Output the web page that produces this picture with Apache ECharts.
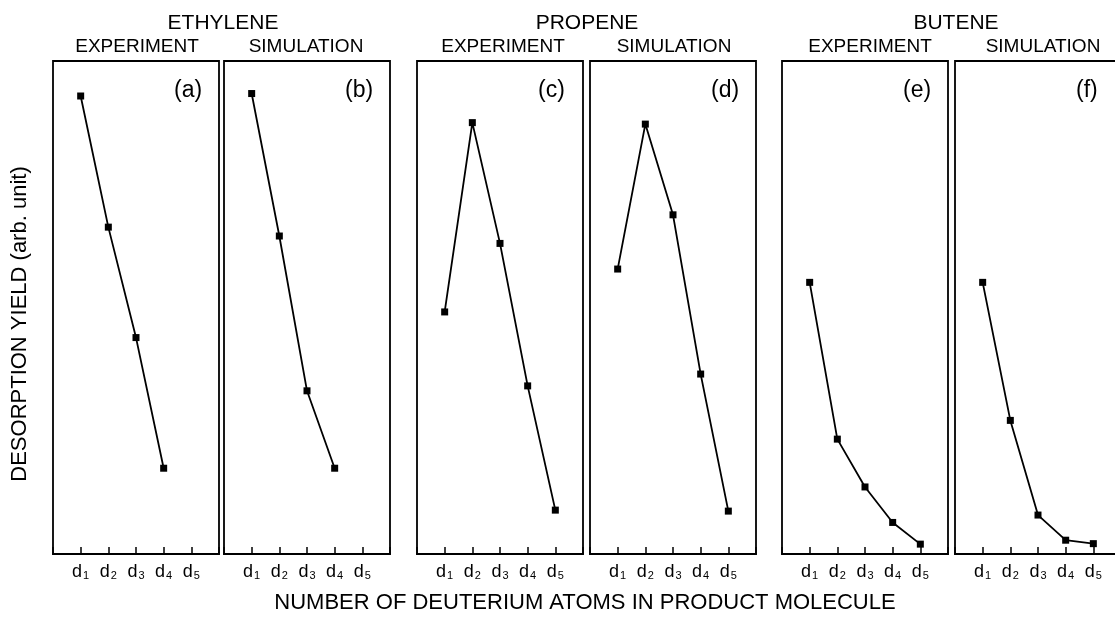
<!DOCTYPE html>
<html>
<head>
<meta charset="utf-8">
<script src="https://cdn.jsdelivr.net/npm/echarts@6/dist/echarts.min.js"></script>
<style>
html,body{margin:0;padding:0;background:#fff;}
#c{width:1115px;height:617px;}
</style>
</head>
<body>
<div id="c"></div>
<script>
// ---- data (arbitrary units, 0..100 = panel bottom..top) ----
const xValues = [1, 2, 3, 4, 5];
const tickLabels = ['1', '2', '3', '4', '5']; // d subscripts
const ethyleneExp = [92.9, 66.3, 43.9, 17.4];
const ethyleneSim = [93.4, 64.5, 33.1, 17.4];
const propeneExp = [49.1, 87.5, 63.0, 34.1, 8.9];
const propeneSim = [57.8, 87.2, 68.8, 36.5, 8.7];
const buteneExp = [55.1, 23.3, 13.6, 6.4, 2.0];
const buteneSim = [55.1, 27.1, 7.9, 2.8, 2.1];
const panelLetters = ['(a)', '(b)', '(c)', '(d)', '(e)', '(f)'];
const molecules = ['ETHYLENE', 'PROPENE', 'BUTENE'];
const subTitles = ['EXPERIMENT', 'SIMULATION'];

const panelSeries = [ethyleneExp, ethyleneSim, propeneExp, propeneSim, buteneExp, buteneSim];

// ---- layout ----
const FONT = '"Liberation Sans", Arial, Helvetica, sans-serif';
const gridLefts = [53, 224, 417, 590, 782, 955];
const gridW = 166;
const gridTop = 61, gridH = 493;

const grids = [], xAxes = [], yAxes = [], series = [], graphics = [];
panelSeries.forEach((vals, i) => {
  grids.push({
    left: gridLefts[i], top: gridTop, width: gridW, height: gridH,
    outerBoundsMode: 'none', containLabel: false,
    show: true, borderColor: '#000', borderWidth: 1.8, backgroundColor: 'transparent'
  });
  xAxes.push({
    type: 'value', gridIndex: i, min: 0, max: 6, interval: 1,
    axisLine: { show: true, onZero: false, lineStyle: { color: '#000', width: 1.8 } },
    axisTick: { show: true, inside: true, length: 7, lineStyle: { color: '#000', width: 1.5 } },
    splitLine: { show: false },
    axisLabel: {
      margin: 9,
      color: '#000',
      formatter: v => (v >= 1 && v <= 5) ? '{d|d}{s|' + tickLabels[v - 1] + '}' : '',
      rich: {
        d: { fontFamily: FONT, fontSize: 18, color: '#000', verticalAlign: 'bottom' },
        s: { fontFamily: FONT, fontSize: 11, color: '#000', verticalAlign: 'bottom', padding: [0, 0, 0, 1] }
      }
    }
  });
  yAxes.push({
    type: 'value', gridIndex: i, min: 0, max: 100, show: false
  });
  series.push({
    type: 'line', xAxisIndex: i, yAxisIndex: i,
    data: vals.map((v, k) => [xValues[k], v]),
    symbol: 'rect', symbolSize: 7,
    itemStyle: { color: '#000' },
    lineStyle: { color: '#000', width: 1.8 },
    animation: false
  });
  graphics.push({
    type: 'text', left: gridLefts[i] + gridW - 45, top: 79,
    style: { text: panelLetters[i], font: '23px ' + FONT, fill: '#000' }
  });
});

// headings
const moleculeX = [223, 587, 956];
const subX = [137, 306, 503, 674, 870, 1043];
molecules.forEach((m, j) => {
  graphics.push({
    type: 'text', x: moleculeX[j], y: 23.5,
    style: { text: m, font: '21px ' + FONT, fill: '#000', align: 'center', verticalAlign: 'middle' }
  });
});
subX.forEach((x, i) => {
  graphics.push({
    type: 'text', x: x, y: 47,
    style: { text: subTitles[i % 2], font: '19px ' + FONT, fill: '#000', align: 'center', verticalAlign: 'middle' }
  });
});
// axis titles
graphics.push({
  type: 'text', x: 585, y: 603,
  style: { text: 'NUMBER OF DEUTERIUM ATOMS IN PRODUCT MOLECULE', font: '22px ' + FONT, fill: '#000', align: 'center', verticalAlign: 'middle' }
});
graphics.push({
  type: 'text', x: 20, y: 324, rotation: Math.PI / 2,
  style: { text: 'DESORPTION YIELD (arb. unit)', font: '22px ' + FONT, fill: '#000', align: 'center', verticalAlign: 'middle' }
});

const chart = echarts.init(document.getElementById('c'), null, { renderer: 'canvas' });
chart.setOption({
  animation: false,
  backgroundColor: '#fff',
  grid: grids,
  xAxis: xAxes,
  yAxis: yAxes,
  series: series,
  graphic: graphics
});
</script>
</body>
</html>
